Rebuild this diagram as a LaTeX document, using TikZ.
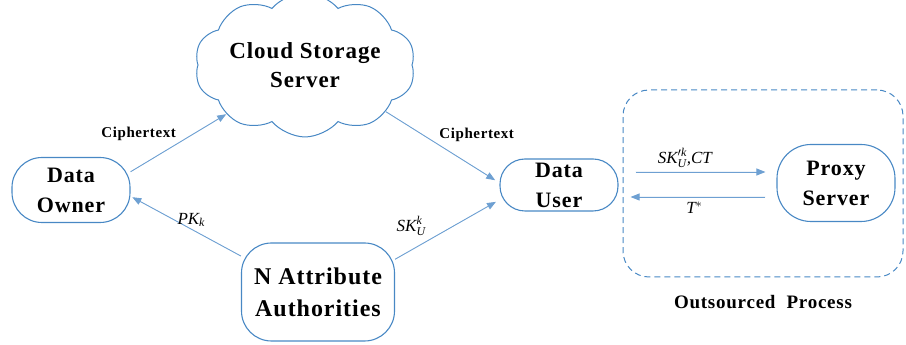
\documentclass[tikz,border=0pt]{standalone}
\usepackage{amsmath}
\usepackage{fontspec}
\setmainfont{Liberation Serif}
\newfontfamily\spacedfont[LetterSpace=4]{Liberation Serif}
\usetikzlibrary{positioning,arrows.meta,shapes.symbols,calc}
\definecolor{boxblue}{RGB}{72,136,196}
\definecolor{flowblue}{RGB}{110,160,210}
\newcommand{\itx}[1]{\text{\itshape #1}}
\tikzset{
  entity/.style={draw=boxblue,line width=1.1pt,align=center,inner sep=2pt,
    font=\spacedfont\fontsize{22}{30}\selectfont\bfseries},
  cloudnode/.style={cloud,cloud puffs=10,cloud puff arc=100,aspect=1.8,
    draw=boxblue,line width=1pt,align=center,inner sep=0pt,
    font=\spacedfont\fontsize{23}{29}\selectfont\bfseries},
  groupbox/.style={draw=boxblue,line width=1pt,dash pattern=on 6pt off 4pt,
    rounded corners=26pt},
  flow/.style={-{Triangle[length=9pt,width=7pt]},draw=flowblue,fill=flowblue,line width=0.9pt},
  flowlbl/.style={font=\fontsize{17}{19}\selectfont,text=black,fill=none,inner sep=2pt},
  ctlbl/.style={font=\spacedfont\fontsize{15}{17}\selectfont\bfseries,text=black,fill=none,inner sep=2pt},
}
\begin{document}
\begin{tikzpicture}[x=1pt,y=1pt]
  \useasboundingbox (0,0) rectangle (906,345);
  \node[entity,minimum width=118pt,minimum height=65pt,rounded corners=30pt]
    (owner) at (71,155) {Data\\Owner};
  \node[cloudnode,minimum width=192pt,minimum height=104pt]
    (cloud) at (305,280) {Cloud Storage\\Server};
  \node[entity,minimum width=118pt,minimum height=52pt,rounded corners=25pt]
    (user) at (559,160) {Data\\User};
  \node[entity,minimum width=153pt,minimum height=98pt,rounded corners=30pt,
    font=\spacedfont\fontsize{24}{32}\selectfont\bfseries]
    (aa) at (318,53) {N Attribute\\Authorities};
  \node[groupbox,minimum width=280pt,minimum height=187pt] (outsrc) at (763,161.5) {};
  \node[entity,minimum width=118pt,minimum height=77pt,rounded corners=34pt]
    (proxy) at (836,162) {Proxy\\Server};
  \node[below=14pt of outsrc,font=\spacedfont\fontsize{19}{22}\selectfont\bfseries]
    (outlbl) {Outsourced\ \ Process};
  \draw[flow] (owner.17) -- node[ctlbl,pos=0.5,above left] (ct1) {Ciphertext} (cloud.212);
  \draw[flow,shorten >=5pt] (cloud.-30) -- node[ctlbl,pos=0.45,above right] (ct2) {Ciphertext} (user.178);
  \draw[flow,shorten >=2pt] (aa.155) -- node[flowlbl,pos=0.45,above] (pk) {$\itx{PK}_{\itx{k}}$} (owner.-6);
  \draw[flow,shorten >=4pt] (aa.23) -- node[flowlbl,pos=0.33,above left=2pt] (sk) {$\itx{SK}_{\itx{U}}^{\itx{k}}$} (user.194);
  \draw[flow,shorten <=17pt,shorten >=11pt]
    ([yshift=13pt]user.east) -- node[flowlbl,pos=0.42,above=2pt] (skct) {$\itx{SK}_{\itx{U}}^{\prime\itx{k}}\itx{,CT}$}
    ([yshift=13pt]user.east -| proxy.west);
  \draw[flow,shorten <=11pt,shorten >=12pt]
    ([yshift=-12pt]user.east -| proxy.west) -- node[flowlbl,pos=0.52,below=2pt] (tstar) {$\itx{T}^{*}$}
    ([yshift=-12pt]user.east);
\end{tikzpicture}
\end{document}
